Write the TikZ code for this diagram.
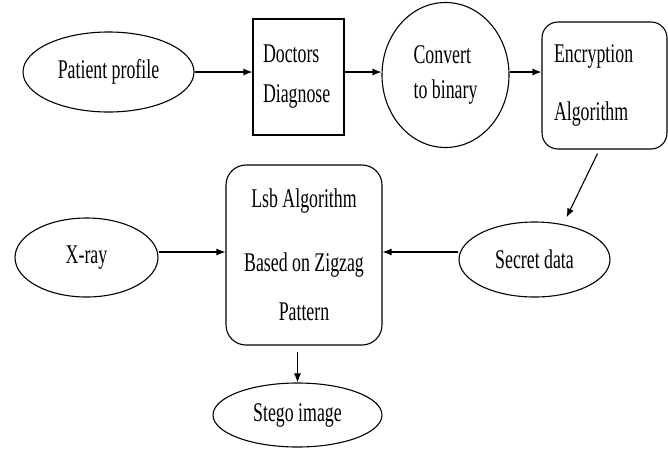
\documentclass[tikz,border=0pt]{standalone}
\usepackage{fontspec}
\setmainfont{Liberation Serif}[FakeStretch=0.66]
\usetikzlibrary{shapes.geometric,arrows.meta}

\begin{document}
\begin{tikzpicture}[x=1pt,y=-1pt,line width=1.1pt,
    >={Latex[length=9pt,width=7pt]},
    font=\fontsize{27}{32}\selectfont,
    oval/.style={draw,ellipse,inner sep=0pt},
    box/.style={draw,align=left,inner ysep=0pt},
    rbox/.style={box,rounded corners=#1}]
  \useasboundingbox (0,0) rectangle (668,448);
  \node[oval,minimum width=171pt,minimum height=80pt] (pat) at (108.5,72) {Patient profile};
  \node[box,text width=71pt,inner xsep=10pt,minimum height=116pt] (doc) at (298.5,77)
    {Doctors\\[8pt]Diagnose};
  \node[oval,align=left,minimum width=127pt,minimum height=145pt] (bin) at (445.5,75)
    {Convert\\[3pt]to binary};
  \node[rbox=16pt,text width=101pt,inner xsep=12pt,minimum height=127pt] (enc) at (604.5,85.5)
    {Encryption\\[26pt]Algorithm};
  \node[rbox=20pt,align=center,minimum width=156pt,minimum height=180pt] (lsb) at (304,255)
    {Lsb Algorithm\\[32pt]Based on Zigzag\\[17pt]Pattern};
  \node[oval,minimum width=151pt,minimum height=75pt] (sec) at (534.5,259.5) {Secret data};
  \node[oval,minimum width=143pt,minimum height=79pt] (xray) at (86.5,257.5) {X-ray};
  \node[oval,minimum width=169pt,minimum height=64pt] (stego) at (297.5,415) {Stego image};
  % top row
  \draw[->] (pat.east) -- (pat.east -| doc.west);
  \draw[->] (pat.east -| doc.east) -- (pat.east -| bin.west);
  \draw[->] (pat.east -| bin.east) -- (pat.east -| enc.west);
  % down to the embedding step
  \draw[->] ([xshift=-7pt,yshift=-4pt]enc.south) -- ([xshift=32pt,yshift=4pt]sec.north);
  \draw[->] ([yshift=7.5pt]sec.west) -- ([yshift=7.5pt]sec.west -| lsb.east);
  \draw[->] ([yshift=5.5pt]xray.east) -- ([yshift=5.5pt]xray.east -| lsb.west);
  \draw[->] ([yshift=-6pt]lsb.south -| stego.north) -- (stego.north);
\end{tikzpicture}
\end{document}
